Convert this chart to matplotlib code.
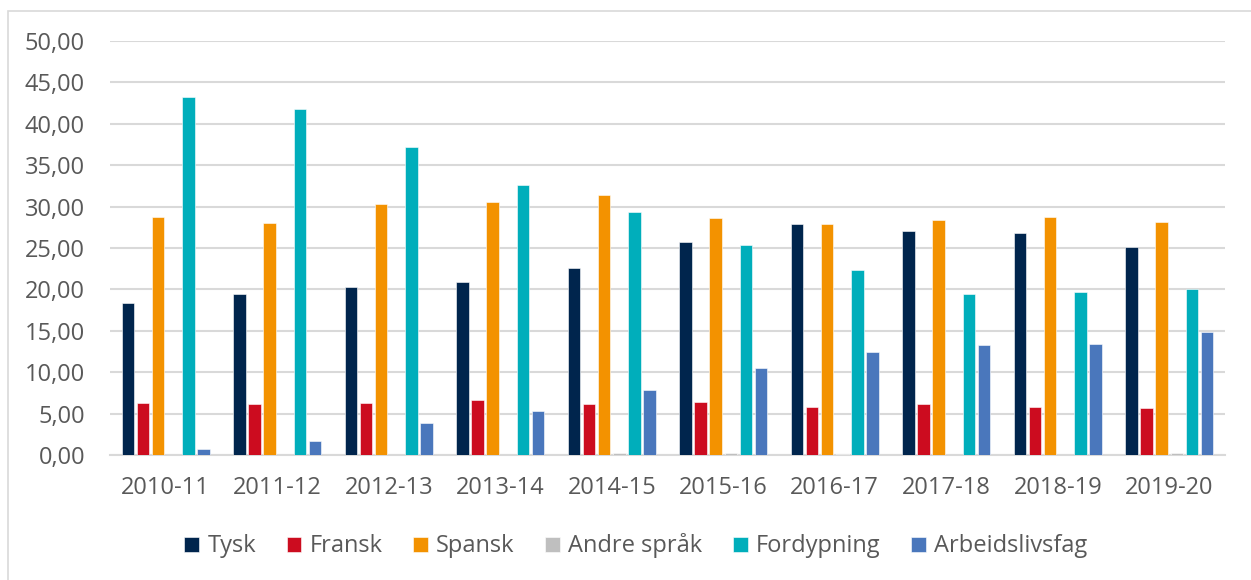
import matplotlib
matplotlib.use("Agg")
import matplotlib.pyplot as plt
import numpy as np
from matplotlib.patches import Rectangle
from matplotlib.ticker import FuncFormatter

years = ["2010-11", "2011-12", "2012-13", "2013-14", "2014-15",
         "2015-16", "2016-17", "2017-18", "2018-19", "2019-20"]
tysk = [18.4, 19.4, 20.3, 20.9, 22.6, 25.7, 27.85, 27.05, 26.8, 25.15]
fransk = [6.24, 6.12, 6.28, 6.64, 6.16, 6.36, 5.8, 6.1, 5.8, 5.64]
spansk = [28.8, 28.0, 30.3, 30.55, 31.4, 28.6, 27.9, 28.4, 28.8, 28.2]
andre = [0.0, 0.0, 0.0, 0.0, 0.3, 0.25, 0.1, 0.0, 0.05, 0.2]
fordypning = [43.2, 41.8, 37.2, 32.6, 29.3, 25.4, 22.3, 19.45, 19.65, 20.0]
arbeid = [0.72, 1.73, 3.9, 5.27, 7.85, 10.47, 12.5, 13.25, 13.4, 14.85]

series = [
    ("Tysk", tysk, "#00254D"),
    ("Fransk", fransk, "#CC0C1F"),
    ("Spansk", spansk, "#F39200"),
    ("Andre språk", andre, "#BFBFBF"),
    ("Fordypning", fordypning, "#00AEBB"),
    ("Arbeidslivsfag", arbeid, "#4A77BC"),
]

plt.rcParams['font.family'] = ['Open Sans', 'DejaVu Sans']
txt_col = "#595959"

fig = plt.figure(figsize=(12.51, 5.8), dpi=100)
ax = fig.add_axes([110/1251, 1 - 455/580, (1225-110)/1251, (455-41)/580])

x = np.arange(len(years))
step = 0.135
width = 0.112
for i, (name, vals, col) in enumerate(series):
    ax.bar(x + (i - 2.5) * step, vals, width=width, color=col, label=name,
           edgecolor="white", linewidth=0.4, zorder=3)

ax.set_xlim(-0.5, len(years) - 0.5)
ax.set_ylim(0, 50)
ax.set_yticks(np.arange(0, 51, 5))
ax.yaxis.set_major_formatter(FuncFormatter(lambda v, p: f"{v:.2f}".replace(".", ",")))
ax.set_xticks(x)
ax.set_xticklabels(years)
ax.grid(axis="y", color="#D9D9D9", linewidth=1.5, zorder=0)
for s in ["top", "right", "left"]:
    ax.spines[s].set_visible(False)
ax.spines["bottom"].set_color("#D9D9D9")
ax.spines["bottom"].set_linewidth(1.5)
ax.tick_params(axis="both", length=0, labelsize=17, colors=txt_col)
ax.tick_params(axis="x", pad=15)
ax.tick_params(axis="y", pad=18)

leg = fig.legend(loc="center", bbox_to_anchor=(636/1251, 1 - 546/580), ncol=6,
                 frameon=False, fontsize=17, handlelength=0.62, handleheight=0.62,
                 columnspacing=1.3, handletextpad=0.35)
for t in leg.get_texts():
    t.set_color(txt_col)

fig.patches.append(Rectangle((8/1251, -0.1), 1.2, 1 - 11/580 + 0.1,
                             transform=fig.transFigure, fill=False,
                             edgecolor="#D9D9D9", linewidth=1.2))

fig.savefig("out.png", dpi=100)
